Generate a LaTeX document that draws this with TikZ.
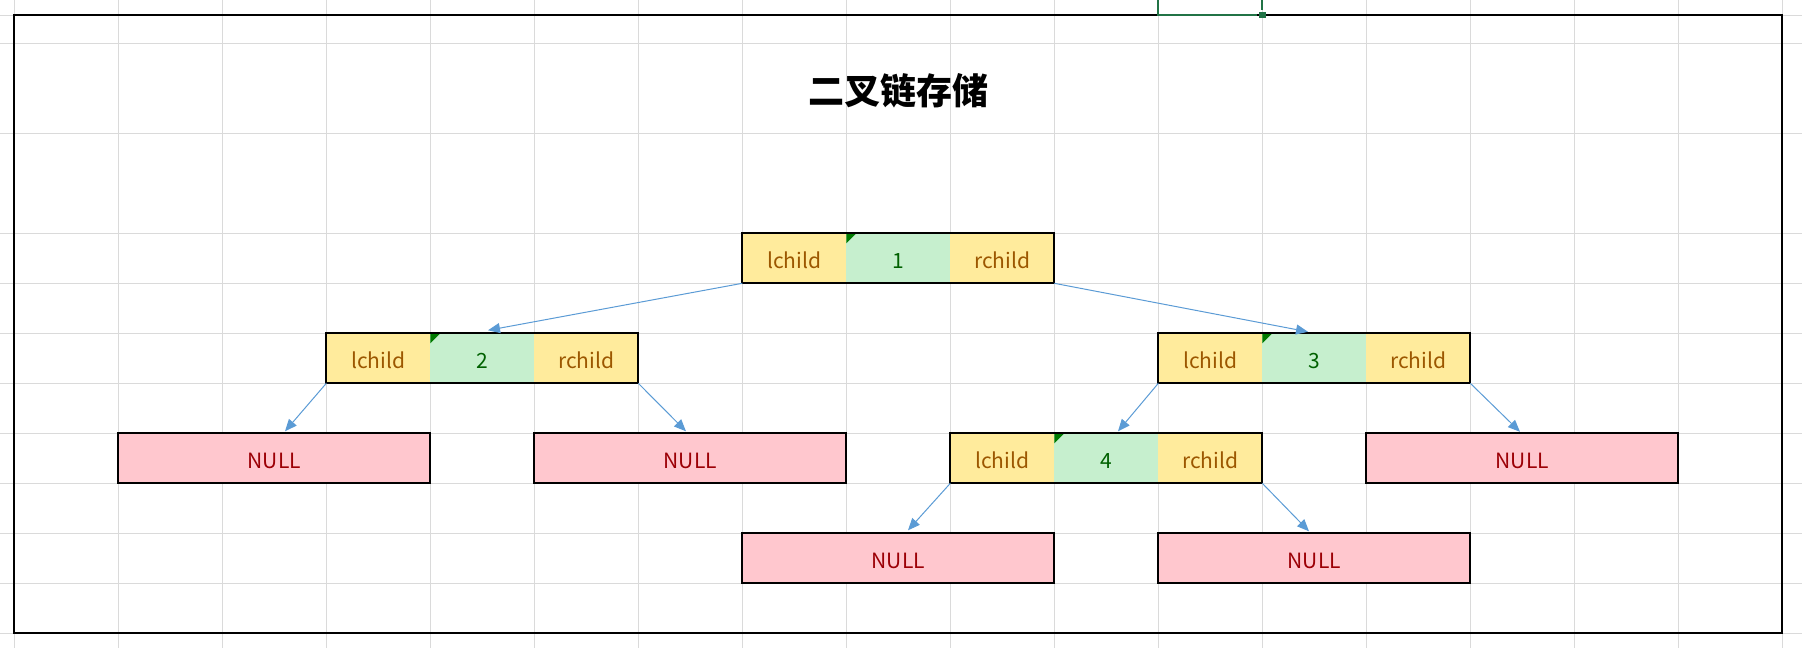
\documentclass[tikz,border=0pt]{standalone}
\usepackage{fontspec}
\setmainfont{Noto Sans CJK SC}
\usetikzlibrary{arrows.meta}
\definecolor{gridc}{RGB}{218,218,218}
\definecolor{yfill}{RGB}{255,235,156}
\definecolor{ytext}{RGB}{156,87,0}
\definecolor{gfill}{RGB}{198,239,206}
\definecolor{gtext}{RGB}{0,97,0}
\definecolor{pfill}{RGB}{255,199,206}
\definecolor{ptext}{RGB}{156,0,6}
\definecolor{arrc}{RGB}{91,155,213}
\definecolor{selc}{RGB}{33,115,70}
\definecolor{tric}{RGB}{0,122,0}
\tikzset{
  celltext/.style={text height=19.8pt, text depth=0pt, font=\fontsize{21pt}{23pt}\selectfont},
  cell/.style={celltext, minimum width=104pt, minimum height=50pt, inner sep=0pt, outer sep=0pt, anchor=north west},
  ycell/.style={cell, fill=yfill, text=ytext},
  gcell/.style={cell, fill=gfill, text=gtext},
  frame/.style={draw=black, line width=2pt, minimum width=312pt, minimum height=50pt, inner sep=0pt, outer sep=0pt, anchor=north west},
  nullbox/.style={frame, celltext, fill=pfill, text=ptext},
  arr/.style={draw=arrc, line width=1pt, -{Triangle[length=12pt,width=10pt]}},
  gridline/.style={draw=gridc, line width=1pt},
  tri/.style={fill=tric},
}
\newcommand\treenode[4]{%
  \node[ycell] (#1l) at (#2,#3) {lchild};
  \node[gcell] (#1d) at (#1l.north east) {#4};
  \node[ycell] (#1r) at (#1d.north east) {rchild};
  \fill[tri] (#1d.north west) -- ++(10,0) -- ++(-10,10) -- cycle;
  \node[frame] (#1) at (#2,#3) {};
}
\begin{document}
\begin{tikzpicture}[x=1pt,y=-1pt]
\useasboundingbox (0,0) rectangle (1802,648);
% spreadsheet grid
\foreach \k in {0,...,17} \draw[gridline] ({14.3+104*\k},0) -- ({14.3+104*\k},648);
\foreach \yy in {15.3,43.3,133.3,233.3,283.3,333.3,383.3,433.3,483.3,533.3,583.3,633.3}
  \draw[gridline] (0,\yy) -- (1802,\yy);
% outer frame
\draw[line width=2pt] (14.3,15.3) rectangle (1782.3,632.5);
% selected cell (top)
\draw[selc, line width=2pt] (1158.3,-2) -- (1158.3,15.3) -- (1257,15.3);
\draw[selc, line width=2pt] (1262.3,-2) -- (1262.3,9.5);
\fill[selc] (1259,11.7) rectangle (1265.6,18.3);
% title
\node[font=\fontsize{36pt}{40pt}\selectfont\bfseries, anchor=base] (title) at (898.3,104) {二叉链存储};
% tree nodes
\treenode{n1}{742.3}{233.3}{1}
\treenode{n2}{326.3}{333.3}{2}
\treenode{n3}{1158.3}{333.3}{3}
\treenode{n4}{950.3}{433.3}{4}
% NULL boxes
\node[nullbox] (nl1) at (118.3,433.3) {NULL};
\node[nullbox] (nl2) at (534.3,433.3) {NULL};
\node[nullbox] (nr3) at (1366.3,433.3) {NULL};
\node[nullbox] (nl4) at (742.3,533.3) {NULL};
\node[nullbox] (nr4) at (1158.3,533.3) {NULL};
% connectors
\draw[arr] (n1.south west) -- ([xshift=161.7pt,yshift=3pt]n2.north west);
\draw[arr] (n1.south east) -- ([xshift=149.7pt,yshift=1.5pt]n3.north west);
\draw[arr] (n2.south west) -- ([xshift=166.7pt,yshift=2pt]nl1.north west);
\draw[arr] (n2.south east) -- ([xshift=151.7pt,yshift=2pt]nl2.north west);
\draw[arr] (n3.south west) -- ([xshift=167.7pt,yshift=2pt]n4.north west);
\draw[arr] (n3.south east) -- ([xshift=153.7pt,yshift=1.5pt]nr3.north west);
\draw[arr] (n4.south west) -- ([xshift=165.7pt,yshift=3pt]nl4.north west);
\draw[arr] (n4.south east) -- ([xshift=150.7pt,yshift=2pt]nr4.north west);
\end{tikzpicture}
\end{document}
